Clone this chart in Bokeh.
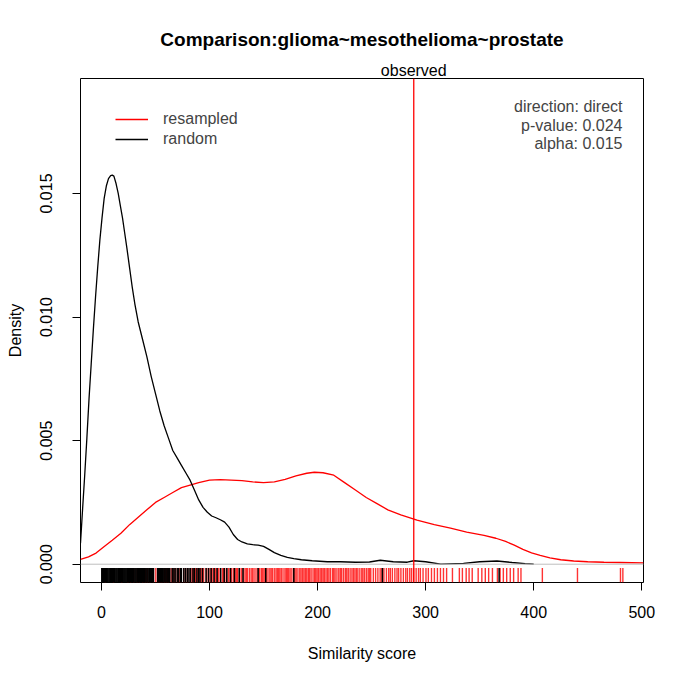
from bokeh.plotting import figure
from bokeh.models import (Label, Span, Legend, LegendItem, FixedTicker, Range1d,
                          PrintfTickFormatter, LinearAxis, CustomJSTickFormatter)
from bokeh.embed import file_html
from bokeh.resources import INLINE

# ---- data ----
random_x = [-19.4, -17.5, -15.5, -13.5, -11.5, -9.5, -7.5, -5.5, -3.5, -1.5, 0.5, 2.5, 4.5, 6.5, 8.5,
            10.0, 11.5, 13.5, 15.5, 17.5, 19.5, 21.5, 23.5, 26.0, 28.5, 31.0, 34.0, 38.0, 42.0, 46.0,
            50.0, 54.0, 58.0, 62.0, 66.0, 70.0, 74.0, 78.0, 82.0, 86.0, 90.0, 94.0, 98.0, 102.0, 106.0,
            110.0, 114.0, 118.0, 122.0, 126.0, 130.0, 135.0, 140.0, 145.0, 150.0, 155.0, 160.0, 166.0,
            172.0, 178.0, 185.0, 195.0, 209.0, 221.0, 235.0, 248.0, 258.0, 270.0, 283.0, 289.0, 300.0,
            314.0, 335.0, 350.0, 366.0, 380.0, 392.0, 400.0]
random_y = [0.00085, 0.0022, 0.0036, 0.0051, 0.0067, 0.0081, 0.0095, 0.0108, 0.0120, 0.0131, 0.0140,
            0.0148, 0.0153, 0.0156, 0.01572, 0.01574, 0.0157, 0.0154, 0.0150, 0.0145, 0.0140, 0.0134,
            0.0128, 0.0120, 0.0112, 0.0105, 0.0098, 0.0091, 0.0084, 0.0076, 0.0069, 0.0062, 0.0056,
            0.0051, 0.0046, 0.0043, 0.0040, 0.0037, 0.0034, 0.0030, 0.0026, 0.0023, 0.0021, 0.00195,
            0.00188, 0.0018, 0.0017, 0.0015, 0.0012, 0.0010, 0.0009, 0.00082, 0.00079, 0.00077,
            0.00072, 0.0006, 0.00047, 0.00036, 0.00028, 0.00023, 0.00018, 0.00014, 0.0001, 0.0001,
            0.00008, 0.00009, 0.00016, 0.0001, 0.00008, 0.00014, 0.0001, 0.0, 0.00003, 0.0001,
            0.00013, 0.00007, 0.00002, 0.0]

resampled_x = [-19.4, -12.0, -5.0, 2.0, 10.0, 18.0, 26.0, 34.0, 42.0, 50.0, 58.0, 66.0, 74.0, 82.0,
               90.0, 100.0, 110.0, 120.0, 130.0, 140.0, 150.0, 160.0, 170.0, 180.0, 190.0, 197.0,
               205.0, 215.0, 225.0, 235.0, 245.0, 255.0, 265.0, 277.0, 292.0, 308.0, 323.0, 338.0,
               354.0, 365.0, 374.0, 382.0, 390.0, 398.0, 406.0, 415.0, 425.0, 437.0, 450.0, 465.0,
               480.0, 501.6]
resampled_y = [0.0002, 0.0003, 0.00045, 0.0007, 0.00097, 0.00125, 0.0016, 0.0019, 0.0022, 0.0025,
               0.0027, 0.0029, 0.0031, 0.0032, 0.0033, 0.0034, 0.00342, 0.0034, 0.00338, 0.00333,
               0.0033, 0.00333, 0.00343, 0.00357, 0.00368, 0.00372, 0.0037, 0.0036, 0.0033, 0.0030,
               0.0027, 0.00245, 0.0022, 0.002, 0.00178, 0.0016, 0.00146, 0.0013, 0.00117, 0.00105,
               0.00092, 0.00077, 0.0006, 0.00046, 0.00036, 0.00026, 0.00018, 0.00013, 0.0001, 0.00008,
               0.00007, 0.00005]

random_rug = [0.3, 1.2, 2.0, 2.9, 3.6, 4.5, 5.3, 6.1, 7.0, 7.8, 8.5, 9.4, 10.2, 11.1, 11.9, 12.6, 13.5,
              14.3, 15.2, 16.0, 16.8, 17.7, 18.5, 19.3, 20.1, 21.0, 21.8, 22.6, 23.5, 24.3, 25.2, 26.0,
              26.9, 27.7, 28.5, 29.4, 30.2, 31.1, 31.9, 32.8, 33.6, 34.5, 35.3, 36.2, 37.0, 37.9, 38.7,
              39.6, 40.4, 41.3, 42.1, 43.0, 43.9, 44.7, 45.6, 46.4, 47.3, 48.1, 52.0, 52.9, 53.7, 54.6,
              55.4, 56.3, 57.1, 58.0, 58.9, 59.7, 60.6, 61.4, 62.3, 63.2, 65.5, 67.0, 68.2, 70.1, 71.5,
              73.3, 74.0, 76.2, 77.8, 79.5, 81.0, 82.4, 84.7, 86.1, 88.3, 90.0, 91.2, 93.5, 96.8, 99.1,
              101.5, 104.2, 107.0, 110.3, 113.6, 116.0, 119.4, 123.1, 127.5, 131.0, 145.0, 152.0, 178.0,
              260.0, 368.0]
resampled_rug = [3.5, 11.2, 18.7, 24.5, 27.1, 29.9, 33.0, 35.1, 38.2, 40.6, 42.5, 44.8, 48.2, 50.3,
                 52.4, 54.1, 55.9, 58.3, 60.0, 61.7, 64.5, 66.2, 67.9, 70.2, 71.8, 73.6, 76.1, 77.9,
                 79.8, 82.5, 83.9, 85.0, 86.9, 88.7, 91.3, 92.8, 94.6, 97.2, 98.9, 100.5, 101.8, 103.1,
                 104.7, 105.8, 107.2, 108.4, 110.0, 111.9, 113.1, 114.2, 116.0, 117.6, 119.1, 120.3,
                 122.0, 123.7, 125.1, 126.0, 127.8, 129.4, 131.0, 132.8, 134.0, 135.1, 136.9, 138.5,
                 139.8, 141.2, 143.0, 144.7, 146.3, 147.9, 149.0, 150.3, 151.5, 152.6, 154.1, 155.8,
                 157.0, 158.2, 159.9, 161.5, 162.7, 163.9, 165.1, 166.4, 168.0, 169.8, 171.0, 172.1,
                 173.3, 174.6, 176.2, 177.9, 179.0, 180.2, 181.8, 183.5, 184.7, 186.1, 187.4, 188.7,
                 190.0, 191.4, 192.6, 194.0, 195.8, 197.3, 198.4, 199.6, 201.0, 202.4, 203.8, 205.1,
                 206.3, 207.8, 209.2, 210.5, 212.0, 213.9, 215.0, 216.2, 217.9, 219.6, 221.0, 222.3,
                 224.0, 225.7, 227.0, 228.4, 230.1, 231.8, 233.2, 234.6, 236.0, 237.3, 239.1, 240.9,
                 242.0, 243.5, 245.2, 246.8, 248.0, 249.2, 251.6, 253.7, 255.8, 257.9, 259.5, 261.4,
                 263.7, 265.8, 267.3, 269.2, 271.5, 273.5, 275.0, 277.1, 279.4, 281.6, 283.2, 285.3,
                 287.0, 288.9, 291.2, 293.4, 295.1, 297.6, 300.3, 302.5, 305.4, 308.1, 310.9, 313.7,
                 316.5, 319.4, 324.8, 331.2, 334.0, 337.5, 340.2, 343.1, 348.6, 352.0, 355.2, 358.3,
                 361.8, 366.4, 368.9, 371.9, 375.0, 378.3, 381.4, 385.6, 388.2, 408.0, 440.5, 480.3,
                 482.5]

observed = 289.0
x_ticks = [0, 100, 200, 300, 400, 500]
y_ticks = [0.0, 0.005, 0.010, 0.015]
series_names = ["resampled", "random"]
stats_lines = ["direction: direct", "p-value: 0.024", "alpha: 0.015"]
title_text = "Comparison:glioma~mesothelioma~prostate"
observed_text = "observed"
x_label = "Similarity score"
y_label = "Density"

FONT = "Liberation Sans"
RED = "#ff0000"

p = figure(title=None, width=685, height=683, frame_width=563, frame_height=504,
           x_range=Range1d(-19.4, 501.6), y_range=Range1d(-0.00074, 0.01965),
           output_backend="svg", toolbar_location=None,
           min_border_left=80, min_border_top=78, min_border_right=42, min_border_bottom=101)
p.xgrid.grid_line_color = None
p.ygrid.grid_line_color = None
p.outline_line_color = "black"
p.outline_line_width = 1
p.outline_line_alpha = 1

# axes
p.xaxis.ticker = FixedTicker(ticks=x_ticks)
p.yaxis.ticker = FixedTicker(ticks=y_ticks)
p.yaxis.formatter = PrintfTickFormatter(format="%.3f")
p.yaxis.major_label_orientation = "vertical"
for ax in (p.xaxis, p.yaxis):
    ax.axis_line_color = None
    ax.major_tick_line_color = "black"
    ax.major_tick_out = 8
    ax.major_tick_in = 0
    ax.minor_tick_line_color = None
    ax.major_label_text_font_size = "16px"
    ax.major_label_text_font = FONT
    ax.major_label_text_color = "black"
    ax.axis_label_text_font_size = "16px"
    ax.axis_label_text_font = FONT
    ax.axis_label_text_font_style = "normal"
    ax.axis_label_text_color = "black"
p.xaxis.major_label_standoff = 15
p.yaxis.major_label_standoff = 20
p.xaxis.axis_label = x_label
p.xaxis.axis_label_standoff = 24
p.yaxis.axis_label = y_label
p.yaxis.axis_label_standoff = 14

# top axis carrying the "observed" marker text and the title
top = LinearAxis(ticker=FixedTicker(ticks=[observed]),
                 formatter=CustomJSTickFormatter(code="return '%s';" % observed_text),
                 axis_line_color=None, major_tick_line_color=None, minor_tick_line_color=None,
                 major_tick_out=0, major_tick_in=0, major_label_standoff=0,
                 major_label_text_font_size="16px", major_label_text_font=FONT,
                 major_label_text_color="black",
                 axis_label=title_text, axis_label_standoff=9,
                 axis_label_text_font_size="19px", axis_label_text_font=FONT,
                 axis_label_text_font_style="bold", axis_label_text_color="black")
p.add_layout(top, "above")

# zero line
p.add_layout(Span(location=0, dimension="width", line_color="#bebebe", line_width=1))

# rugs (resampled first, random drawn on top)
rug_top = -0.00015
p.segment(x0=resampled_rug, y0=rug_top, x1=resampled_rug, y1=-0.00074, line_color=RED,
          line_alpha=0.8, line_width=1.4)
p.segment(x0=random_rug, y0=rug_top, x1=random_rug, y1=-0.00074, line_color="black",
          line_alpha=1.0, line_width=1.5)

# density curves
r_res = p.line(resampled_x, resampled_y, line_color=RED, line_width=1.3)
r_rand = p.line(random_x, random_y, line_color="black", line_width=1.3)

# observed line
p.add_layout(Span(location=observed, dimension="height", line_color=RED, line_width=1.3))

legend = Legend(items=[LegendItem(label=series_names[0], renderers=[r_res]),
                       LegendItem(label=series_names[1], renderers=[r_rand])],
                location=(35, 433), border_line_color=None, background_fill_alpha=0,
                padding=0, margin=0, spacing=0, glyph_width=33, glyph_height=20,
                label_height=20, label_standoff=15, label_text_font_size="16px",
                label_text_font=FONT, label_text_baseline="middle")
p.add_layout(legend)

for i, s in enumerate(stats_lines):
    p.add_layout(Label(x=542, y=476 - i * 18.7, x_units="screen", y_units="screen", text=s,
                       text_align="right", text_baseline="middle", text_font_size="16px",
                       text_font=FONT))

open("out.html", "w").write(file_html(p, INLINE))
